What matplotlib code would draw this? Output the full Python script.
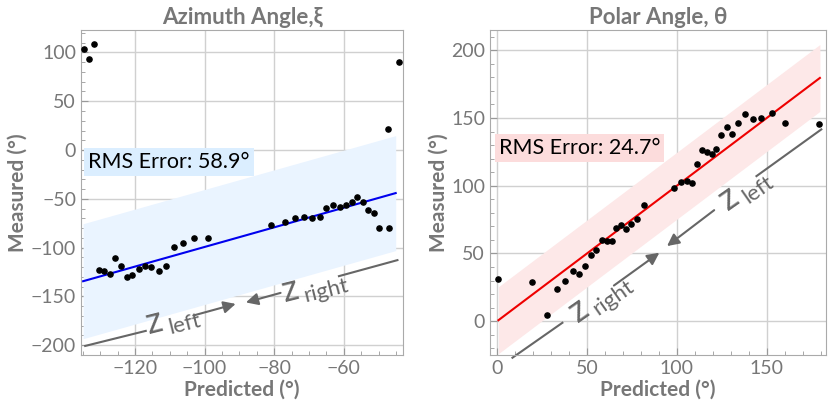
import matplotlib
matplotlib.use("Agg")
import matplotlib.pyplot as plt
import numpy as np

plt.rcParams['font.family'] = 'Lato'

# Azimuth data
az_pred = [-134.7, -133.2, -131.8, -44.2, -47.3,
           -128.8, -127.1, -125.6, -124.0, -122.4, -120.8, -118.9, -117.2, -115.3, -113.2,
           -111.0, -108.8, -106.1, -103.0, -99.1, -81.0, -77.0, -73.9, -71.3, -69.1, -66.9,
           -65.0, -63.0, -61.1, -59.4, -57.7, -56.1, -54.5, -53.0, -51.4, -49.9, -46.9, -130.2]
az_meas = [103.6, 93.0, 108.7, 90.0, 21.5,
           -124.4, -126.5, -111.0, -118.3, -129.9, -128.5, -122.0, -119.0, -120.3, -123.8,
           -119.0, -99.1, -95.7, -90.6, -90.3, -77.3, -73.5, -69.7, -69.1, -70.1, -68.7,
           -59.5, -56.7, -58.2, -56.1, -53.3, -47.9, -53.3, -61.8, -64.9, -80.0, -80.0, -123.4]
az_fit_x = [-134.9, -45.1]
az_fit_y = [-134.4, -44.1]
az_rms = 58.9

# Polar data
po_pred = [0.7, 19.6, 27.6, 33.2, 37.9, 42.0, 45.6, 49.1, 52.4, 55.2, 58.1, 60.9, 63.7,
           66.1, 68.9, 71.5, 74.4, 77.6, 81.5, 98.5, 102.4, 105.7, 108.5, 111.3, 113.9,
           116.7, 119.3, 122.0, 124.8, 127.8, 130.7, 134.1, 138.1, 142.2, 147.0, 152.8,
           160.2, 179.3]
po_meas = [31.3, 29.1, 4.4, 24.1, 30.0, 36.7, 35.0, 40.4, 48.7, 52.9, 60.1, 59.4, 59.4,
           68.5, 70.7, 67.7, 71.9, 75.3, 86.0, 98.5, 102.7, 103.2, 102.2, 116.0, 126.3,
           124.8, 123.3, 127.3, 137.7, 143.6, 137.9, 146.5, 153.2, 149.5, 149.7, 153.4,
           146.0, 145.5]
po_fit_x = [0.7, 179.6]
po_fit_y = [0.7, 179.6]
po_rms = 24.7

GRAY = '#777777'
fig = plt.figure(figsize=(8.3, 4.16), dpi=100)
ax1 = fig.add_axes([81/830, 61/416, 322/830, 325/416])
ax2 = fig.add_axes([490/830, 61/416, 336/830, 325/416])

def style(ax):
    ax.grid(True, color='#d0d0d0', lw=1)
    ax.set_axisbelow(True)
    ax.minorticks_on()
    ax.tick_params(which='both', colors='#999999', labelcolor=GRAY, labelsize=14, direction='in')
    ax.tick_params(which='major', length=5)
    ax.tick_params(which='minor', length=3)
    for s in ax.spines.values():
        s.set_color('#aaaaaa')
    ax.set_xlabel('Predicted (°)', fontsize=15, fontweight='bold', color=GRAY, labelpad=2)
    ax.set_ylabel('Measured (°)', fontsize=15, fontweight='bold', color=GRAY, labelpad=2)

def zlabel(ax, x, y, sub, rot):
    r = np.deg2rad(rot)
    ax.annotate('z', (x, y), textcoords='offset points', xytext=(0, 0), fontsize=26,
                color='#666666', rotation=rot, ha='center', va='center')
    dx, dy = 9, -7
    ox = dx*np.cos(r) - dy*np.sin(r)
    oy = dx*np.sin(r) + dy*np.cos(r)
    ax.annotate(sub, (x, y), textcoords='offset points', xytext=(ox, oy), fontsize=16,
                color='#666666', rotation=rot, ha='left', va='center', rotation_mode='anchor')

ac = dict(color='#666666', lw=1.5)
ap = dict(arrowstyle='-|>', color='#666666', lw=1.5, mutation_scale=18)

# Left
fx = np.array(az_fit_x); fy = np.array(az_fit_y)
ax1.fill_between(fx, fy - az_rms, fy + az_rms, color='#eaf4ff', lw=0)
ax1.plot(fx, fy, color='#0000ee', lw=1.5)
ax1.scatter(az_pred, az_meas, s=14, color='black', zorder=3)
ax1.set_xlim(-135.5, -43)
ax1.set_ylim(-210, 123)
ax1.set_xticks([-120, -100, -80, -60])
ax1.set_yticks([-200, -150, -100, -50, 0, 50, 100])
style(ax1)
ax1.set_title('Azimuth Angle,ξ', fontsize=16, fontweight='bold', color=GRAY, pad=4)
ax1.text(-133.5, -12.3, f'RMS Error: {az_rms}°', fontsize=15.5, va='center',
         bbox=dict(facecolor='#dbeeff', edgecolor='none', pad=3))
ax1.plot([-134.3, -116.9], [-200.7, -185.3], **ac)
ax1.plot([-61.4, -44.6], [-129.2, -112.8], **ac)
ax1.annotate('', xy=(-90.3, -156.9), xytext=(-104, -170.3), arrowprops=ap)
ax1.annotate('', xy=(-88.9, -156.9), xytext=(-77.4, -145.6), arrowprops=ap)
zlabel(ax1, -114.5, -176, 'left', 14)
zlabel(ax1, -75.5, -143, 'right', 14)

# Right
fx = np.array(po_fit_x); fy = np.array(po_fit_y)
ax2.fill_between(fx, fy - po_rms, fy + po_rms, color='#fde8e8', lw=0)
ax2.plot(fx, fy, color='#ee0000', lw=1.5)
ax2.scatter(po_pred, po_meas, s=14, color='black', zorder=3)
ax2.set_xlim(-4, 183)
ax2.set_ylim(-25, 215)
ax2.set_xticks([0, 50, 100, 150])
ax2.set_yticks([0, 50, 100, 150, 200])
style(ax2)
ax2.set_title('Polar Angle, θ', fontsize=16, fontweight='bold', color=GRAY, pad=4)
ax2.text(0.8, 128, f'RMS Error: {po_rms}°', fontsize=15.5, va='center',
         bbox=dict(facecolor='#fcdcdc', edgecolor='none', pad=3))
ax2.plot([8.5, 36.3], [-27, -1.2], clip_on=False, **ac)
ax2.plot([144.3, 180.4], [107.1, 141.6], **ac)
ax2.annotate('', xy=(91.5, 51.7), xytext=(63.7, 25.1), arrowprops=ap)
ax2.annotate('', xy=(93.3, 54.2), xytext=(122, 83.2), arrowprops=ap)
zlabel(ax2, 45.5, 8.5, 'right', 35)
zlabel(ax2, 129, 91, 'left', 35)

fig.savefig('out.png', dpi=100)
